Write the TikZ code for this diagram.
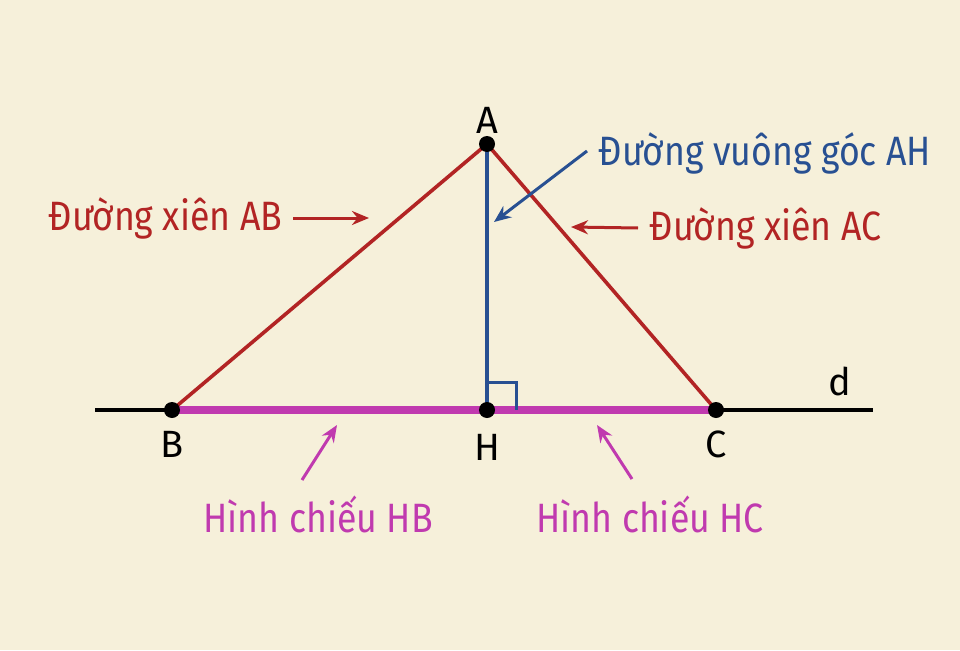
\documentclass[tikz,border=0pt]{standalone}
\usepackage{fontspec}
\setmainfont{Fira Sans}
\newfontfamily\narrowfont{Fira Sans}[FakeStretch=0.87]
\usetikzlibrary{arrows.meta,calc}
\definecolor{paper}{RGB}{246,240,218}
\definecolor{xien}{RGB}{178,36,36}
\definecolor{vuong}{RGB}{40,80,146}
\definecolor{chieu}{RGB}{192,58,175}
\begin{document}
\begin{tikzpicture}[x=1pt,y=-1pt,line width=3.6pt,
  lbl/.style={inner sep=0pt,font=\narrowfont\fontsize{41}{44}\selectfont},
  pt/.style={inner sep=0pt,font=\fontsize{38}{40}\selectfont},
  arr/.style={line width=3pt,-{Stealth[length=17pt,width=14pt]}}]
 		% background and size of the picture
 		\fill[paper] (0,0) rectangle (960,650);
 		\useasboundingbox (0,0) rectangle (960,650);
 		
 		% Define points.
 		\coordinate (A) at (487,144);
 		\coordinate (B) at (172,410);
 		\coordinate (H) at (487,410);
 		\coordinate (C) at (716,410);
 		\coordinate (dl) at (95,410);   %left end of d
 		\coordinate (dr) at (873,410);  %right end of d
 		
 		% Line d and projections
 		\draw[black] (dl) -- (dr);
 		\draw[chieu,line width=8pt] (B) -- (C);
 		
 		% Oblique lines and perpendicular
 		\draw[xien] (B) -- (A) -- (C);
 		\draw[vuong] (A) -- (H);
 		\draw[vuong,line width=3pt] ($(H)+(0,-28)$) -- ++(29,0) -- ++(0,28);
 		
 		% Points
 		\foreach \p in {A,B,H,C} \fill (\p) circle (8);
 		\node[pt] (lA) at (487,120) {A};
 		\node[pt] (lB) at (172,444) {B};
 		\node[pt] (lH) at (487,447) {H};
 		\node[pt] (lC) at (716,444) {C};
 		\node[pt] (ld) at (840,381) {d};
 		
 		% Labels and arrows
 		\node[lbl,xien,anchor=east] (tAB) at (284,218) {Đường xiên AB};
 		\coordinate (eAB) at (369,218);
 		\draw[arr,xien] ([xshift=9pt]tAB.east) -- (eAB);
 		
 		\node[lbl,xien,anchor=west] (tAC) at (648,228) {Đường xiên AC};
 		\coordinate (eAC) at (571,227);
 		\draw[arr,xien] ([xshift=-10pt]tAC.west) -- (eAC);
 		
 		\node[lbl,vuong,anchor=west] (tAH) at (597,153) {Đường vuông góc AH};
 		\coordinate (eAH) at (494,222);
 		\draw[arr,vuong] ([xshift=-10pt,yshift=2pt]tAH.west) -- (eAH);
 		
 		\node[lbl,chieu] (tHB) at (318,514) {Hình chiếu HB};
 		\coordinate (eHB) at (337,425);
 		\draw[arr,chieu] (302,480) -- (eHB);
 		
 		\node[lbl,chieu] (tHC) at (650,514) {Hình chiếu HC};
 		\coordinate (eHC) at (597,425);
 		\draw[arr,chieu] (632,479) -- (eHC);
 		
\end{tikzpicture}
\end{document}
